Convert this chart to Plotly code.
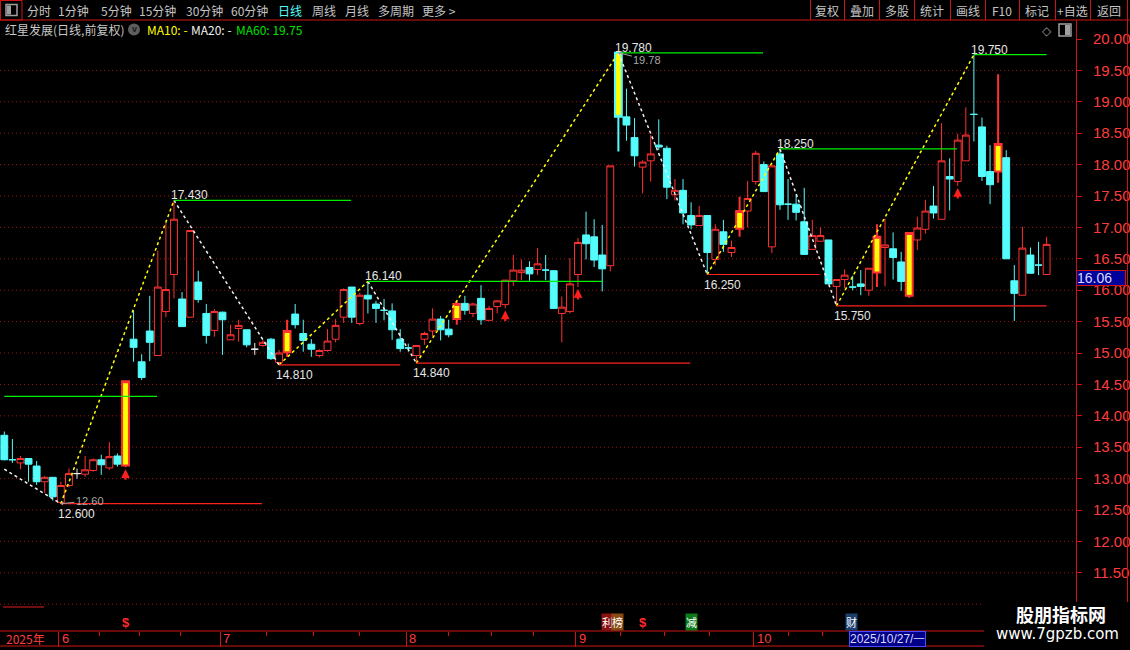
import plotly.graph_objects as go
import pandas as pd

# ---------------- data ----------------
opens = [13.69, 13.30, 13.25, 13.32, 13.20, 12.95, 13.02, 12.62, 12.89, 13.08,
         13.07, 13.13, 13.30, 13.17, 13.36, 13.21, 15.22, 14.86, 15.35, 14.96,
         15.66, 16.25, 15.86, 15.57, 16.13, 15.63, 15.36, 15.65, 15.21, 15.39,
         15.37, 15.06, 15.12, 15.22, 14.85, 15.01, 15.62, 15.31, 15.14, 14.96,
         15.04, 15.22, 15.57, 16.05, 15.47, 15.92, 15.78, 15.68, 15.67, 15.22,
         15.08, 14.96, 15.22, 15.35, 15.54, 15.38, 15.54, 15.79, 15.63, 15.87,
         15.52, 15.74, 15.77, 16.15, 16.28, 16.36, 16.33, 16.32, 16.31, 15.63,
         15.66, 16.25, 16.88, 16.85, 16.56, 16.39, 19.78, 18.76, 18.43, 17.96,
         18.06, 18.31, 18.26, 17.52, 17.59, 17.19, 17.03, 17.19, 16.49, 16.93,
         16.60, 16.98, 17.26, 17.73, 18.00, 16.69, 18.17, 17.37, 17.37, 17.09,
         16.65, 16.78, 16.80, 16.06, 16.17, 16.05, 16.10, 16.00, 16.28, 16.68,
         16.66, 16.45, 15.91, 16.80, 16.97, 17.34, 17.13, 17.81, 17.73, 18.06,
         18.80, 18.60, 17.89, 17.89, 18.11, 16.15, 15.92, 16.56, 16.40, 16.25]
highs = [13.75, 13.63, 13.36, 13.32, 13.28, 13.04, 13.02, 12.95, 13.16, 13.16,
         13.36, 13.32, 13.38, 13.58, 13.40, 14.55, 15.68, 14.98, 15.91, 16.63,
         17.07, 17.43, 15.97, 16.95, 16.31, 15.78, 15.70, 15.66, 15.45, 15.53,
         15.37, 15.16, 15.21, 15.24, 15.05, 15.53, 15.78, 15.53, 15.22, 15.06,
         15.38, 15.54, 16.03, 16.05, 15.96, 16.14, 15.83, 15.86, 15.79, 15.38,
         15.15, 15.12, 15.34, 15.71, 15.59, 15.53, 15.83, 15.91, 15.80, 16.08,
         15.75, 15.84, 16.16, 16.56, 16.49, 16.46, 16.67, 16.56, 16.32, 15.90,
         16.51, 16.83, 17.25, 17.13, 17.04, 17.98, 19.78, 19.21, 18.74, 18.07,
         18.47, 18.72, 18.30, 17.77, 17.77, 17.40, 17.34, 17.19, 17.05, 17.12,
         16.79, 17.49, 17.74, 18.22, 18.05, 17.98, 18.25, 17.77, 17.52, 17.63,
         17.12, 17.00, 16.80, 16.17, 16.33, 16.23, 16.32, 16.35, 17.05, 17.14,
         16.92, 16.61, 16.91, 17.17, 17.44, 17.66, 18.66, 18.10, 18.49, 18.91,
         19.75, 18.75, 18.31, 19.44, 18.23, 16.40, 17.01, 16.68, 16.77, 16.85]
lows = [13.29, 13.25, 13.15, 12.95, 12.90, 12.77, 12.65, 12.60, 12.86, 13.00,
        13.03, 13.11, 13.06, 13.14, 13.19, 13.18, 14.86, 14.57, 14.87, 14.96,
        15.57, 15.87, 15.42, 15.57, 15.80, 15.15, 15.26, 14.97, 15.21, 15.18,
        15.09, 14.97, 15.10, 14.89, 14.81, 14.94, 15.39, 15.02, 14.94, 14.93,
        15.02, 15.17, 15.48, 15.48, 15.44, 15.63, 15.48, 15.52, 15.21, 15.02,
        15.02, 14.84, 15.13, 15.26, 15.20, 15.25, 15.45, 15.61, 15.57, 15.45,
        15.52, 15.63, 15.71, 16.07, 16.16, 16.15, 16.24, 16.16, 15.70, 15.17,
        15.63, 16.05, 16.49, 16.37, 15.98, 16.30, 18.21, 18.38, 17.97, 17.54,
        17.73, 18.23, 17.45, 17.43, 17.05, 16.97, 17.03, 16.25, 16.40, 16.61,
        16.53, 16.85, 17.00, 17.68, 17.57, 16.59, 17.28, 17.12, 17.11, 16.57,
        16.65, 16.78, 16.10, 15.75, 16.03, 16.00, 15.92, 15.91, 16.05, 16.06,
        16.17, 15.99, 15.88, 16.64, 16.90, 17.14, 17.13, 17.27, 17.66, 18.06,
        18.37, 17.74, 17.37, 17.71, 16.50, 15.51, 15.92, 16.27, 16.24, 16.25]
closes = [13.30, 13.30, 13.32, 13.23, 12.95, 13.02, 12.71, 12.89, 13.08, 13.08,
          13.14, 13.30, 13.22, 13.35, 13.23, 14.55, 15.09, 14.61, 15.17, 16.05,
          16.01, 17.13, 15.42, 16.95, 15.85, 15.28, 15.66, 15.53, 15.29, 15.44,
          15.13, 15.06, 15.17, 14.91, 15.00, 15.35, 15.45, 15.20, 15.06, 15.04,
          15.19, 15.44, 16.01, 15.57, 15.92, 15.86, 15.71, 15.68, 15.37, 15.07,
          15.08, 15.12, 15.31, 15.54, 15.37, 15.29, 15.78, 15.68, 15.78, 15.53,
          15.71, 15.83, 16.16, 16.32, 16.32, 16.26, 16.42, 16.32, 15.71, 15.73,
          16.10, 16.76, 16.74, 16.48, 16.34, 17.98, 18.76, 18.63, 18.14, 18.04,
          18.17, 18.28, 17.64, 17.59, 17.23, 17.04, 17.19, 16.60, 16.97, 16.73,
          16.68, 17.26, 17.46, 18.18, 17.57, 17.98, 17.36, 17.37, 17.24, 16.57,
          16.87, 16.87, 16.10, 16.17, 16.24, 16.05, 16.06, 16.35, 16.85, 16.72,
          16.52, 16.14, 16.91, 16.99, 17.26, 17.23, 18.06, 17.77, 18.39, 18.47,
          18.80, 17.81, 17.68, 18.33, 16.50, 15.95, 16.67, 16.27, 16.40, 16.73]

yellow_body = [15, 35, 56, 76, 91, 108, 112, 123]
white_doji = [9, 31]

pivot_idx = [0, 7, 21, 34, 45, 51, 76, 87, 96, 103, 120]
pivot_val = [13.15, 12.60, 17.43, 14.81, 16.14, 14.84, 19.78, 16.25, 18.25, 15.75, 19.75]

level_start = [0, 7, 21, 34, 45, 51, 76, 87, 96, 103, 120]
level_end = [18.9, 31.9, 42.9, 49.0, 74.0, 84.9, 93.9, 100.9, 117.9, 129.0, 129.0]
level_val = [14.31, 12.60, 17.43, 14.81, 16.14, 14.84, 19.78, 16.25, 18.25, 15.75, 19.75]
level_kind = ['high', 'low', 'high', 'low', 'high', 'low', 'high', 'low', 'high', 'low', 'high']

arrow_idx = [15, 62, 71, 118]
dollar_idx = [15, 79]
event_pos = [74.7, 75.9, 85.0, 104.8]
event_text = ['利', '榜', '减', '财']
event_bg = ['#8a1212', '#8a4a12', '#0f7a1a', '#1d3f6e']

price_ticks = [11.5, 12.0, 12.5, 13.0, 13.5, 14.0, 14.5, 15.0, 15.5,
               16.0, 16.5, 17.0, 17.5, 18.0, 18.5, 19.0, 19.5, 20.0]
grid_vals = [11.0, 11.5, 12.0, 12.5, 13.0, 13.5, 14.0, 14.5, 15.0,
             15.5, 16.0, 16.5, 17.0, 17.5, 18.0, 18.5, 19.0, 19.5]

holidays = ['2025-06-02', '2025-10-01', '2025-10-02', '2025-10-03',
            '2025-10-06', '2025-10-07', '2025-10-08']
cursor_idx = 105
cursor_price_text = '16.06'
cursor_price_level = 16.20

tab_labels = ['分时', '1分钟', '5分钟', '15分钟', '30分钟', '60分钟', '日线', '周线', '月线', '多周期', '更多 >']
button_labels = ['复权', '叠加', '多股', '统计', '画线', 'F10', '标记', '+自选', '返回']

# ---------------- geometry ----------------
W, H = 1130, 650
ML, MR, MT, MB = 0, 54, 20, 19
PW, PH = W - ML - MR, H - MT - MB
STEP = 8.08
X0PX = 4.3
Y20PX = 39.0
PXU = 62.8

xr = [(0 - X0PX) / STEP, (PW - X0PX) / STEP]
yr = [20 - (H - MB - Y20PX) / PXU, 20 + (Y20PX - MT) / PXU]


def fx(p):
    return (p - ML) / PW


def fy(p):
    return (H - MB - p) / PH


N = len(opens)
dates = [d for d in pd.bdate_range('2025-05-22', '2025-11-28')
         if d.strftime('%Y-%m-%d') not in holidays][:N]

RED = '#ff3232'
CYAN = '#54fcfc'
YEL = '#ffff00'
WHITE = '#f0f0f0'
AXRED = '#cc1414'

fig = go.Figure()

groups = [
    ([i for i in range(N) if closes[i] > opens[i] and i not in yellow_body], RED, '#000000', 1),
    ([i for i in range(N) if closes[i] > opens[i] and i in yellow_body], RED, YEL, 2),
    ([i for i in range(N) if closes[i] < opens[i] and i not in yellow_body], CYAN, CYAN, 1),
    ([i for i in range(N) if closes[i] < opens[i] and i in yellow_body], CYAN, YEL, 2),
    ([i for i in range(N) if closes[i] == opens[i] and i not in white_doji], CYAN, CYAN, 1),
    ([i for i in range(N) if closes[i] == opens[i] and i in white_doji], WHITE, WHITE, 1),
]
for ids, lc, fc, lw in groups:
    if not ids:
        continue
    fig.add_trace(go.Candlestick(
        x=ids,
        open=[opens[i] for i in ids], high=[highs[i] for i in ids],
        low=[lows[i] for i in ids], close=[closes[i] for i in ids],
        increasing=dict(line=dict(color=lc, width=lw), fillcolor=fc),
        decreasing=dict(line=dict(color=lc, width=lw), fillcolor=fc),
        whiskerwidth=0, hoverinfo='skip', showlegend=False))

# zigzag legs
ux, uy, dx, dy = [], [], [], []
for k in range(1, len(pivot_idx)):
    sx = [pivot_idx[k - 1], pivot_idx[k], None]
    sy = [pivot_val[k - 1], pivot_val[k], None]
    if pivot_val[k] > pivot_val[k - 1]:
        ux += sx
        uy += sy
    else:
        dx += sx
        dy += sy
fig.add_trace(go.Scatter(x=ux, y=uy, mode='lines', hoverinfo='skip', showlegend=False,
                         line=dict(color=YEL, width=1.5, dash='3px,3px')))
fig.add_trace(go.Scatter(x=dx, y=dy, mode='lines', hoverinfo='skip', showlegend=False,
                         line=dict(color=WHITE, width=1.5, dash='3px,3px')))

# support / resistance levels
for kind, col in [('high', '#00ee00'), ('low', '#ff2020')]:
    lx, ly = [], []
    for s, e, v, kd in zip(level_start, level_end, level_val, level_kind):
        if kd == kind:
            lx += [s, e, None]
            ly += [v, v, None]
    fig.add_trace(go.Scatter(x=lx, y=ly, mode='lines', hoverinfo='skip', showlegend=False,
                             line=dict(color=col, width=1.2)))

ann = []
NUMF = 'Liberation Sans, Arial, sans-serif'
CJKF = 'Noto Sans CJK SC, sans-serif'


def pann(x, y, text, font, xanchor='center', yanchor='middle', xref='paper', **kw):
    d = dict(x=x, y=y, xref=xref, yref='paper', text=text, showarrow=False,
             xanchor=xanchor, yanchor=yanchor, font=font)
    d.update(kw)
    return d


# pivot labels
for k in range(1, len(pivot_idx)):
    hi = pivot_val[k] > pivot_val[k - 1]
    ann.append(dict(x=pivot_idx[k], y=pivot_val[k], xref='x', yref='y', text=f'{pivot_val[k]:.3f}',
                    showarrow=False, xanchor='left', yanchor='bottom' if hi else 'top',
                    xshift=-5, yshift=-4 if hi else -1,
                    font=dict(family=NUMF, size=12, color='#e6e6e6')))

# extreme markers
imin = min(range(N), key=lambda i: lows[i])
imax = max(range(N), key=lambda i: highs[i])
for i, v, ay in [(imin, lows[imin], -3), (imax, highs[imax], 7)]:
    ann.append(dict(x=i, y=v, xref='x', yref='y', text=f'{v:.2f}', showarrow=True,
                    ax=29, ay=ay, arrowhead=1, arrowsize=0.7, arrowwidth=1, arrowcolor='#a0a0a0',
                    font=dict(family=NUMF, size=11, color='#a8a8a8')))

# buy arrows
for i in arrow_idx:
    ann.append(dict(x=i, y=lows[i], xref='x', yref='y', text='', showarrow=True,
                    ax=0, ay=14, arrowhead=2, arrowsize=0.8, arrowwidth=2.2,
                    arrowcolor='#ff1e1e', standoff=2))

# bottom signal row
for i in dollar_idx:
    ann.append(pann(i, fy(622), '<b>$</b>', dict(family=NUMF, size=13, color='#ff2a2a'), xref='x'))
for p, t, bg in zip(event_pos, event_text, event_bg):
    ann.append(pann(p, fy(622), t, dict(family=CJKF, size=11, color='#ffffff'), xref='x',
                    bgcolor=bg, borderpad=0))

# month labels on time axis
CURSOR_BOX_PX = 849
month_start = [i for i in range(1, N) if dates[i].month != dates[i - 1].month]
bnd = [m - 0.25 for m in month_start]
minor_vals = []
for a, b in zip(bnd[:-1], bnd[1:]):
    minor_vals += [a + (b - a) * q / 4 for q in (1, 2, 3)]
ann.append(pann(fx(4), fy(638.5), '2025年', dict(family=CJKF, size=12, color='#ff3c3c'), xanchor='left'))
for m, b in zip(month_start, bnd):
    if X0PX + b * STEP > CURSOR_BOX_PX - 20:
        continue  # hidden behind the cursor date box in the reference
    ann.append(pann(b, fy(638.5), str(dates[m].month), dict(family=NUMF, size=13, color='#ff3c3c'),
                    xanchor='left', xref='x', xshift=1))

wk = '一二三四五六日'[dates[cursor_idx].weekday()]
ann.append(pann(fx(CURSOR_BOX_PX), fy(638.5), dates[cursor_idx].strftime('%Y/%m/%d') + '/' + wk,
                dict(family=NUMF, size=12, color='#d8d8ff'), xanchor='left',
                bgcolor='#000088', bordercolor='#4a4aff', borderwidth=1, borderpad=0))

# price cursor box on the right axis
ann.append(dict(x=fx(PW), y=cursor_price_level, xref='paper', yref='y', text=cursor_price_text,
                showarrow=False, xanchor='left', yanchor='middle', align='left', width=48, height=14,
                bgcolor='#00009a', bordercolor=AXRED, borderwidth=1, borderpad=0,
                font=dict(family=NUMF, size=14, color='#d8d8ff')))

# header row 1
tab_centers = [38.7, 73.6, 116.4, 157.5, 204.0, 249.5, 289.8, 323.5, 356.5, 396.3, 438.8]
for t, c in zip(tab_labels, tab_centers):
    ann.append(pann(fx(c), fy(10), t, dict(family=CJKF, size=12, color=CYAN if t == '日线' else '#c4c4c4')))
btn_edges = [810, 844, 879, 914, 950, 985, 1019, 1055, 1090, 1127]
for t, a, b in zip(button_labels, btn_edges[:-1], btn_edges[1:]):
    ann.append(pann(fx((a + b) / 2), fy(10), t, dict(family=CJKF, size=12, color='#c4c4c4')))

# header row 2
row2 = [('红星发展(日线,前复权)', 3, '#c8c8c8'), ('MA10: -', 145, '#ffff00'),
        ('MA20: -', 189, '#f0f0f0'), ('MA60: 19.75', 234, '#00e000')]
for t, x0, col in row2:
    ann.append(pann(fx(x0), fy(29.5), t, dict(family=CJKF, size=12, color=col), xanchor='left'))
ann.append(pann(fx(134), fy(29.5), '<b>v</b>', dict(family=NUMF, size=9, color='#1a1a1a')))
ann.append(pann(fx(1047), fy(31), '◇', dict(family='DejaVu Sans', size=12, color='#9a9a9a')))

# watermark
ann.append(pann(fx(1061), fy(614), '<b>股朋指标网</b>', dict(family=CJKF, size=18, color='#ffffff')))
ann.append(pann(fx(1057), fy(634), 'www.7gpzb.com', dict(family='DejaVu Sans', size=15, color='#ffffff')))

# ---------------- shapes ----------------
shapes = []
for v in grid_vals:
    shapes.append(dict(type='line', xref='paper', yref='y', x0=0, x1=1, y0=v, y1=v, layer='below',
                       line=dict(color='#a01212', width=1, dash='1px,3px')))


def pline(x0, y0, x1, y1, col=AXRED, w=1, layer='above'):
    return dict(type='line', xref='paper', yref='paper', x0=fx(x0), y0=fy(y0), x1=fx(x1), y1=fy(y1),
                line=dict(color=col, width=w), layer=layer)


shapes.append(pline(0, 20, W, 20))
shapes.append(dict(type='rect', xref='paper', yref='paper', x0=fx(0.5), x1=fx(22), y0=fy(0.5), y1=fy(20),
                   line=dict(color=AXRED, width=1)))
shapes.append(dict(type='rect', xref='paper', yref='paper', x0=fx(6), x1=fx(17), y0=fy(4.5), y1=fy(15.5),
                   line=dict(color='#a0a0a0', width=1.5)))
shapes.append(dict(type='rect', xref='paper', yref='paper', x0=fx(7), x1=fx(11), y0=fy(5.5), y1=fy(14.5),
                   fillcolor='#a0a0a0', line=dict(width=0)))
for e in btn_edges:
    shapes.append(pline(e + 0.5, 0, e + 0.5, 20))
shapes.append(pline(W - 2.5, 20, W - 2.5, 602))
shapes.append(pline(0, 631, 984, 631))
shapes.append(pline(0, 646, 984, 646))
shapes.append(pline(3, 607, 44, 607, col='#e01e1e'))
shapes.append(dict(type='circle', xref='paper', yref='paper', x0=fx(128), x1=fx(140), y0=fy(23.5), y1=fy(35.5),
                   fillcolor='#5e5e5e', line=dict(width=0)))
shapes.append(dict(type='rect', xref='paper', yref='paper', x0=fx(1059), x1=fx(1071), y0=fy(24), y1=fy(36),
                   line=dict(color='#a0a0a0', width=1.5)))
shapes.append(dict(type='rect', xref='paper', yref='paper', x0=fx(1065), x1=fx(1070), y0=fy(25), y1=fy(35),
                   fillcolor='#a0a0a0', line=dict(width=0)))
shapes.append(dict(type='rect', xref='paper', yref='paper', x0=fx(984), x1=fx(W), y0=fy(602), y1=fy(H),
                   fillcolor='#000000', line=dict(width=0), layer='above'))

fig.update_layout(
    width=W, height=H, margin=dict(l=ML, r=MR, t=MT, b=MB),
    paper_bgcolor='#000000', plot_bgcolor='#000000',
    boxgap=0.15, boxgroupgap=0, showlegend=False, hovermode=False,
    xaxis=dict(type='linear', range=xr, showgrid=False, zeroline=False, showline=False,
               rangeslider=dict(visible=False), tickmode='array', tickvals=bnd,
               ticks='outside', ticklen=15, tickcolor=AXRED, tickwidth=1, showticklabels=False,
               minor=dict(tickvals=minor_vals, ticks='outside', ticklen=4, tickcolor=AXRED),
               fixedrange=True),
    yaxis=dict(range=yr, side='right', showline=True, linecolor=AXRED, linewidth=1,
               tickmode='array', tickvals=price_ticks, ticktext=[f'{v:.2f}' for v in price_ticks],
               ticks='outside', ticklen=5, tickcolor=AXRED,
               tickfont=dict(family='Liberation Sans Narrow, Liberation Sans, Arial', size=15, color='#ff3c3c'),
               ticklabelstandoff=8, showgrid=False, zeroline=False, fixedrange=True),
    shapes=shapes, annotations=ann,
)

fig.write_html('out.html', config={'displayModeBar': False},
               post_script="document.body.style.margin='0px';document.body.style.overflow='hidden';"
                           "document.body.style.background='#000';")
